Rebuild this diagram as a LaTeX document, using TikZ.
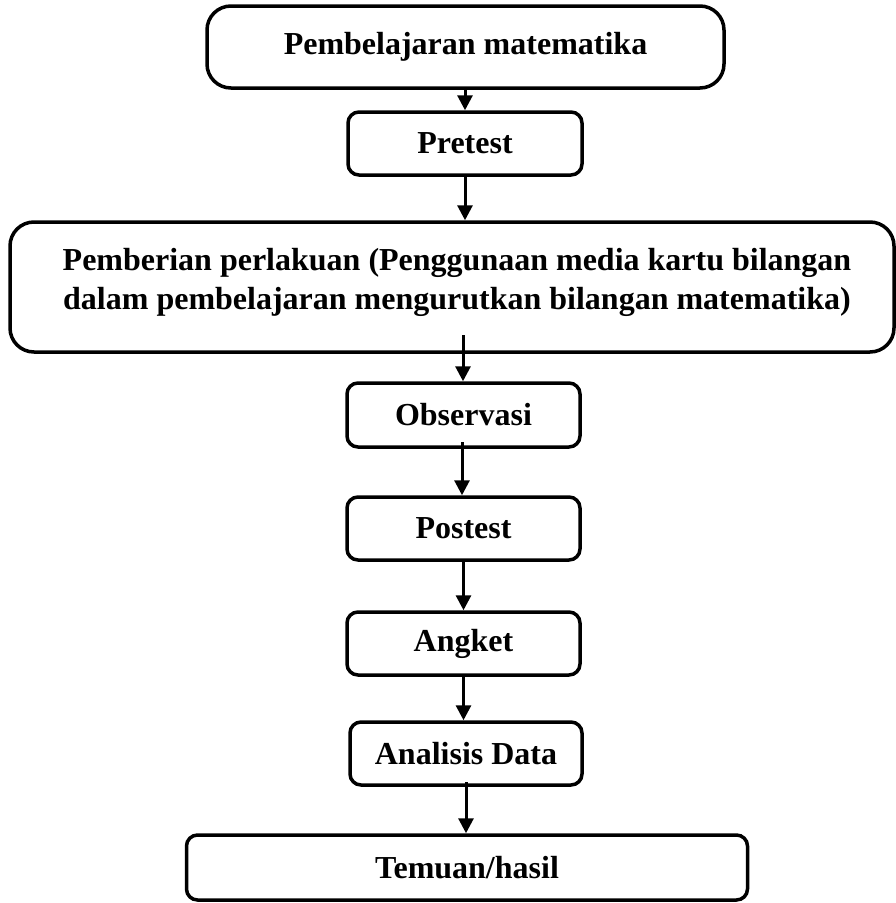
\documentclass[tikz,border=0pt]{standalone}
\usepackage{fontspec}
\setmainfont{Liberation Serif}
\usetikzlibrary{arrows.meta,calc}
\begin{document}
\begin{tikzpicture}[x=1pt,y=-1pt,
  box/.style={draw=black, line width=3.5pt, rounded corners=11pt, inner sep=0pt, font=\fontsize{32}{39}\selectfont\bfseries},
  bigbox/.style={box, rounded corners=24pt},
  lbl/.style={inner sep=0pt, align=center, font=\fontsize{32}{39}\selectfont\bfseries},
  arr/.style={line width=3pt, -{Triangle[length=15pt,width=15pt]}}]
\useasboundingbox (0,0) rectangle (896,903);
\node[bigbox, minimum width=517pt, minimum height=82pt] (b1) at (465.5,47) {Pembelajaran matematika};
\node[box, minimum width=234pt, minimum height=63pt] (b2) at (465,143.5) {Pretest};
\node[bigbox, minimum width=884pt, minimum height=130pt] (b3) at (452,287) {};
\node[lbl] (b3t) at (457,282) {Pemberian perlakuan (Penggunaan media kartu bilangan\\dalam pembelajaran mengurutkan bilangan matematika)};
\node[box, minimum width=233pt, minimum height=64pt] (b4) at (463.5,415) {Observasi};
\node[box, minimum width=233pt, minimum height=63pt] (b5) at (463.5,528.5) {Postest};
\node[box, minimum width=233pt, minimum height=63pt] (b6) at (463.5,643.5) {Angket};
\node[box, minimum width=232pt, minimum height=63pt] (b7) at (466,753.5) {Analisis Data};
\node[box, minimum width=561pt, minimum height=65pt] (b8) at (467,867.5) {Temuan/hasil};
\draw[arr] (b1.south -| b2.north) -- (b2.north);
\draw[arr] (b2.south) -- (b2.south |- b3.north);
\coordinate (s3) at (463,335);
\draw[arr] (s3) -- (s3 |- b4.north);
\coordinate (s4) at (462,442);
\draw[arr] (s4) -- (s4 |- b5.north);
\draw[arr] (b5.south) -- (b6.north);
\draw[arr] (b6.south) -- (b6.south |- b7.north);
\coordinate (s7) at (466,782);
\draw[arr] (s7) -- (s7 |- b8.north);
\end{tikzpicture}
\end{document}
